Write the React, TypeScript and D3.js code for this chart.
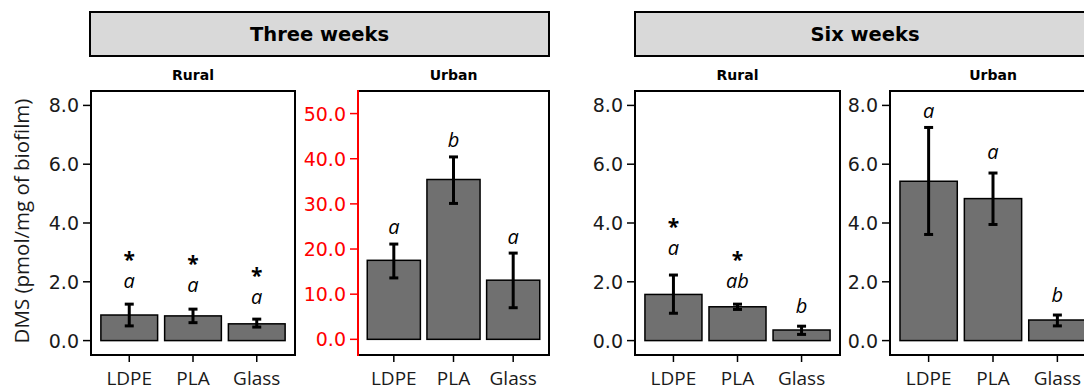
import React from "react";
import * as d3 from "d3";

// Materials on the x axis of every panel
const materials = ["LDPE", "PLA", "Glass"];

// Three weeks, rural site
const rural3Mean = [0.87, 0.84, 0.57];
const rural3Lo = [0.5, 0.61, 0.46];
const rural3Hi = [1.24, 1.07, 0.73];
const rural3Letters = ["a", "a", "a"];
const rural3Stars = [true, true, true];
const rural3LetterY = [1.78, 1.64, 1.26];

// Three weeks, urban site
const urban3Mean = [17.5, 35.4, 13.1];
const urban3Lo = [13.6, 30.1, 7.0];
const urban3Hi = [21.1, 40.4, 19.1];
const urban3Letters = ["a", "b", "a"];
const urban3Stars = [false, false, false];
const urban3LetterY = [23.3, 42.7, 21.1];

// Six weeks, rural site
const rural6Mean = [1.57, 1.15, 0.36];
const rural6Lo = [0.93, 1.06, 0.21];
const rural6Hi = [2.23, 1.24, 0.49];
const rural6Letters = ["a", "ab", "b"];
const rural6Stars = [true, true, false];
const rural6LetterY = [2.92, 1.79, 0.94];

// Six weeks, urban site
const urban6Mean = [5.42, 4.83, 0.7];
const urban6Lo = [3.61, 3.95, 0.5];
const urban6Hi = [7.25, 5.7, 0.87];
const urban6Letters = ["a", "a", "b"];
const urban6Stars = [false, false, false];
const urban6LetterY = [7.56, 6.18, 1.32];

// Axis ticks
const smallTicks = [0, 2, 4, 6, 8];
const largeTicks = [0, 10, 20, 30, 40, 50];

const W = 1084;
const H = 387;
const TOP = 91;
const BOTTOM = 355;

const tickFont = "'DejaVu Sans', Verdana, sans-serif";
const labelFont = "'Open Sans', 'Noto Sans', sans-serif";

type PanelProps = {
  left: number;
  right: number;
  title: string;
  mean: number[];
  lo: number[];
  hi: number[];
  letters: string[];
  stars: boolean[];
  letterY: number[];
  domain: [number, number];
  ticks: number[];
  axisColor: string;
};

function Panel(p: PanelProps) {
  const x = d3
    .scalePoint<string>()
    .domain(materials)
    .range([p.left, p.right])
    .padding(0.6);
  const y = d3.scaleLinear().domain(p.domain).range([BOTTOM, TOP]);
  const bw = x.step() * 0.89;
  const fmt = d3.format(".1f");
  return (
    <g>
      <text
        x={(p.left + p.right) / 2}
        y={80}
        textAnchor="middle"
        fontFamily={tickFont}
        fontWeight="bold"
        fontSize={14}
        fill="#000"
      >
        {p.title}
      </text>
      <rect
        x={p.left}
        y={TOP}
        width={p.right - p.left}
        height={BOTTOM - TOP}
        fill="#fff"
        stroke="#000"
        strokeWidth={2}
      />
      {materials.map((m, i) => {
        const cx = x(m)!;
        return (
          <g key={m}>
            <rect
              x={cx - bw / 2}
              y={y(p.mean[i])}
              width={bw}
              height={y(0) - y(p.mean[i])}
              fill="#707070"
              stroke="#000"
              strokeWidth={1.5}
            />
            <line x1={cx} x2={cx} y1={y(p.lo[i])} y2={y(p.hi[i])} stroke="#000" strokeWidth={3} />
            <line x1={cx - 4.5} x2={cx + 4.5} y1={y(p.lo[i])} y2={y(p.lo[i])} stroke="#000" strokeWidth={3} />
            <line x1={cx - 4.5} x2={cx + 4.5} y1={y(p.hi[i])} y2={y(p.hi[i])} stroke="#000" strokeWidth={3} />
            <text
              x={cx}
              y={y(p.letterY[i])}
              textAnchor="middle"
              fontFamily={labelFont}
              fontStyle="italic"
              fontSize={20}
              fill="#000"
            >
              {p.letters[i]}
            </text>
            {p.stars[i] && (
              <text
                x={cx}
                y={y(p.letterY[i]) - 21}
                textAnchor="middle"
                fontFamily={labelFont}
                fontWeight="bold"
                fontSize={21}
                fill="#000"
              >
                *
              </text>
            )}
            <line x1={cx} x2={cx} y1={BOTTOM} y2={BOTTOM + 7} stroke="#000" strokeWidth={1.5} />
            <text
              x={cx}
              y={385}
              textAnchor="middle"
              fontFamily={labelFont}
              fontSize={19}
              fill="#1a1a1a"
            >
              {m}
            </text>
          </g>
        );
      })}
      <line x1={p.left} x2={p.left} y1={TOP - 1} y2={BOTTOM + 1} stroke={p.axisColor} strokeWidth={2} />
      {p.ticks.map((t) => (
        <g key={t}>
          <line x1={p.left - 8} x2={p.left} y1={y(t)} y2={y(t)} stroke={p.axisColor} strokeWidth={1.5} />
          <text
            x={p.left - 12}
            y={y(t) + 7}
            textAnchor="end"
            fontFamily={tickFont}
            fontSize={19}
            fill={p.axisColor === "#000" ? "#1a1a1a" : p.axisColor}
          >
            {fmt(t)}
          </text>
        </g>
      ))}
    </g>
  );
}

function Strip({ left, right, label }: { left: number; right: number; label: string }) {
  return (
    <g>
      <rect x={left} y={12} width={right - left} height={44} fill="#d9d9d9" stroke="#000" strokeWidth={2} />
      <text
        x={(left + right) / 2}
        y={41}
        textAnchor="middle"
        fontFamily={tickFont}
        fontWeight="bold"
        fontSize={19.5}
        fill="#000"
      >
        {label}
      </text>
    </g>
  );
}

export default function App() {
  return (
    <svg
      width={W}
      height={H}
      style={{ position: "absolute", left: 0, top: 0, background: "#fff" }}
    >
      <rect x={0} y={0} width={W} height={H} fill="#fff" />
      <text
        transform="translate(29,221) rotate(-90)"
        textAnchor="middle"
        fontFamily={labelFont}
        fontSize={20.5}
        fill="#1a1a1a"
      >
        DMS (pmol/mg of biofilm)
      </text>
      <Strip left={90} right={549} label="Three weeks" />
      <Strip left={635} right={1095} label="Six weeks" />
      <Panel
        left={91}
        right={295}
        title="Rural"
        mean={rural3Mean}
        lo={rural3Lo}
        hi={rural3Hi}
        letters={rural3Letters}
        stars={rural3Stars}
        letterY={rural3LetterY}
        domain={[-0.49, 8.49]}
        ticks={smallTicks}
        axisColor="#000"
      />
      <Panel
        left={358}
        right={549}
        title="Urban"
        mean={urban3Mean}
        lo={urban3Lo}
        hi={urban3Hi}
        letters={urban3Letters}
        stars={urban3Stars}
        letterY={urban3LetterY}
        domain={[-3.47, 55.0]}
        ticks={largeTicks}
        axisColor="#ff0000"
      />
      <Panel
        left={635}
        right={840}
        title="Rural"
        mean={rural6Mean}
        lo={rural6Lo}
        hi={rural6Hi}
        letters={rural6Letters}
        stars={rural6Stars}
        letterY={rural6LetterY}
        domain={[-0.49, 8.49]}
        ticks={smallTicks}
        axisColor="#000"
      />
      <Panel
        left={890}
        right={1096}
        title="Urban"
        mean={urban6Mean}
        lo={urban6Lo}
        hi={urban6Hi}
        letters={urban6Letters}
        stars={urban6Stars}
        letterY={urban6LetterY}
        domain={[-0.49, 8.49]}
        ticks={smallTicks}
        axisColor="#000"
      />
    </svg>
  );
}
